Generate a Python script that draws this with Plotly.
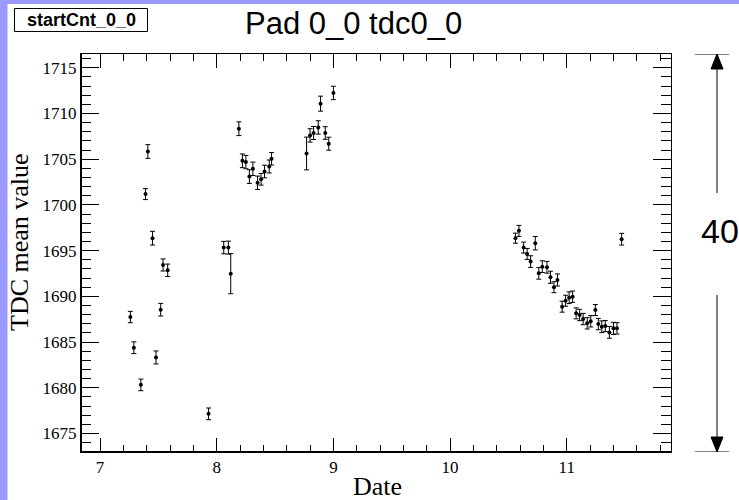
import plotly.graph_objects as go

# ---------------- data ----------------
dates = [7.26, 7.29, 7.35, 7.39, 7.41, 7.45, 7.48, 7.52, 7.54, 7.58,
         7.93, 8.06, 8.10, 8.12, 8.19,
         8.22, 8.25, 8.28, 8.31, 8.35, 8.38, 8.41, 8.45, 8.47,
         8.77, 8.80, 8.83, 8.87, 8.89, 8.93, 8.96, 9.00,
         10.56, 10.59, 10.63, 10.66, 10.69, 10.73, 10.76, 10.79, 10.83, 10.86,
         10.89, 10.92, 10.96, 10.99, 11.02, 11.05, 11.08, 11.11, 11.14, 11.175,
         11.205, 11.245, 11.27, 11.30, 11.33, 11.365, 11.40, 11.43, 11.47]

tdc_mean = [1687.74, 1684.38, 1680.32, 1701.18, 1705.84, 1696.36, 1683.32, 1688.54, 1693.43, 1692.85,
            1677.15, 1695.33, 1695.33, 1692.48, 1708.33,
            1704.82, 1704.68, 1703.10, 1703.95, 1702.42, 1702.80, 1703.65, 1704.20, 1705.04,
            1705.62, 1707.60, 1707.86, 1708.47, 1711.07, 1707.86, 1706.69, 1712.24,
            1696.36, 1697.16, 1695.33, 1694.64, 1693.80, 1695.81, 1692.52, 1693.25, 1693.18, 1692.09,
            1691.00, 1691.79, 1688.87, 1689.52, 1689.85, 1689.96, 1688.14, 1687.96, 1687.52, 1687.05,
            1687.27, 1688.50, 1686.97, 1686.68, 1686.75, 1686.06, 1686.50, 1686.50, 1696.25]

tdc_err = [0.62, 0.64, 0.64, 0.60, 0.75, 0.75, 0.71, 0.69, 0.66, 0.68,
           0.64, 0.68, 0.71, 2.19, 0.75,
           0.75, 0.73, 0.75, 0.73, 0.73, 0.64, 0.69, 0.71, 0.68,
           1.79, 0.73, 0.71, 0.73, 0.82, 0.69, 0.71, 0.73,
           0.55, 0.60, 0.60, 0.60, 0.64, 0.73, 0.64, 0.64, 0.64, 0.66,
           0.60, 0.66, 0.60, 0.60, 0.64, 0.62, 0.60, 0.62, 0.62, 0.62,
           0.62, 0.60, 0.62, 0.64, 0.60, 0.64, 0.66, 0.62, 0.64]

x_range = [6.837, 11.893]
y_range = [1672.98, 1716.5]
x_ticks = [7, 8, 9, 10, 11]
y_ticks = [1675, 1680, 1685, 1690, 1695, 1700, 1705, 1710, 1715]

title_text = "Pad 0_0 tdc0_0"
box_text = "startCnt_0_0"
range_text = "40"

# ---------------- layout geometry ----------------
W, H = 739, 500
L, R, T, B = 81, 68, 54, 48
PW, PH = W - L - R, H - T - B


def px(xp):
    return (xp - L) / PW


def py(yp):
    return (H - B - yp) / PH


serif = "Liberation Serif, Times New Roman, serif"
sans = "Liberation Sans, Arial, sans-serif"

fig = go.Figure()
fig.add_trace(go.Scatter(
    x=dates, y=tdc_mean, mode="markers",
    marker=dict(color="black", size=4, symbol="circle"),
    error_y=dict(type="data", array=tdc_err, visible=True,
                 color="black", thickness=1, width=2.5),
    showlegend=False, hoverinfo="x+y",
))

axis_common = dict(
    showgrid=False, zeroline=False, showline=True, linecolor="black",
    linewidth=1, mirror="ticks", ticks="inside", tickcolor="black",
    tickwidth=1,
)

fig.update_xaxes(
    range=x_range, tickvals=x_ticks, ticklen=14,
    minor=dict(ticks="inside", dtick=0.2, tick0=7, ticklen=7,
               tickcolor="black", tickwidth=1),
    tickfont=dict(family=serif, size=17, color="black"),
    **axis_common,
)
fig.update_yaxes(
    range=y_range, tickvals=y_ticks, ticklen=18,
    minor=dict(ticks="inside", dtick=1, tick0=1675, ticklen=10,
               tickcolor="black", tickwidth=1),
    tickfont=dict(family=serif, size=17, color="black"),
    **axis_common,
)

shapes = []
# white pad on a periwinkle canvas
shapes.append(dict(type="rect", xref="paper", yref="paper", layer="below",
                   x0=px(7.5), x1=px(W + 5), y0=py(H + 5), y1=py(4),
                   fillcolor="white", line=dict(width=0)))
# label box in the top-left corner
shapes.append(dict(type="rect", xref="paper", yref="paper",
                   x0=px(14.5), x1=px(147.5), y0=py(31.5), y1=py(8.5),
                   fillcolor="white", line=dict(color="black", width=1)))
# thicker left and bottom frame lines
shapes.append(dict(type="line", xref="paper", yref="paper",
                   x0=0, x1=1, y0=0, y1=0, line=dict(color="black", width=2)))
shapes.append(dict(type="line", xref="paper", yref="paper",
                   x0=0, x1=0, y0=0, y1=1, line=dict(color="black", width=2)))
# range arrow on the right
ax = px(717)
span = y_range[1] - y_range[0]
shapes.append(dict(type="line", xref="paper", yref="y", x0=ax, x1=ax,
                   y0=y_range[1], y1=y_range[1] - (193 - T) / PH * span,
                   line=dict(color="black", width=1)))
shapes.append(dict(type="line", xref="paper", yref="y", x0=ax, x1=ax,
                   y0=y_range[0], y1=y_range[0] + (H - B - 295) / PH * span,
                   line=dict(color="black", width=1)))
for yv in y_range:
    shapes.append(dict(type="line", xref="paper", yref="y", x0=px(695), x1=px(729),
                       y0=yv, y1=yv, line=dict(color="black", width=1)))
# arrow heads
shapes.append(dict(type="path", xref="paper", yref="paper",
                   path=f"M {px(717)} {py(54)} L {px(711)} {py(69)} L {px(723)} {py(69)} Z",
                   fillcolor="black", line=dict(color="black", width=1)))
shapes.append(dict(type="path", xref="paper", yref="paper",
                   path=f"M {px(717)} {py(452)} L {px(711)} {py(437)} L {px(723)} {py(437)} Z",
                   fillcolor="black", line=dict(color="black", width=1)))

annotations = [
    dict(text=title_text, xref="paper", yref="paper", x=px(353), y=py(23),
         xanchor="center", yanchor="middle", showarrow=False,
         font=dict(family=sans, size=31, color="black")),
    dict(text=f"<b>{box_text}</b>", xref="paper", yref="paper", x=px(81), y=py(20),
         xanchor="center", yanchor="middle", showarrow=False,
         font=dict(family=sans, size=18, color="black")),
    dict(text=range_text, xref="paper", yref="paper", x=px(699), y=py(231),
         xanchor="left", yanchor="middle", showarrow=False,
         font=dict(family=sans, size=34, color="black")),
    dict(text="TDC mean value", xref="paper", yref="paper", x=px(19), y=py(242),
         xanchor="center", yanchor="middle", showarrow=False, textangle=-90,
         font=dict(family=serif, size=26, color="black")),
    dict(text="Date", xref="paper", yref="paper", x=px(377), y=py(486),
         xanchor="center", yanchor="middle", showarrow=False,
         font=dict(family=serif, size=26, color="black")),
]

fig.update_layout(
    width=W, height=H, margin=dict(l=L, r=R, t=T, b=B, pad=0),
    paper_bgcolor="#9999ff", plot_bgcolor="white",
    shapes=shapes, annotations=annotations,
)

fig.write_html("out.html")
